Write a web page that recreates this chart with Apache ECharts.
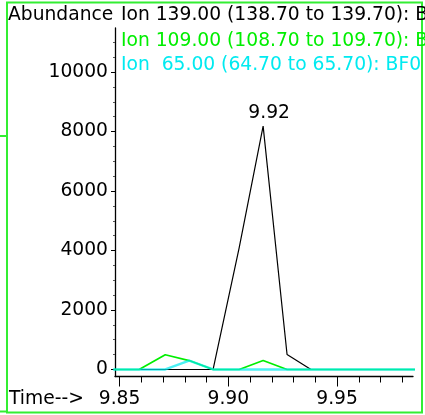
<!DOCTYPE html>
<html>
<head>
<meta charset="utf-8">
<script src="https://cdn.jsdelivr.net/npm/echarts@6/dist/echarts.min.js"></script>
<style>html,body{margin:0;padding:0;background:#fff}#c{width:425px;height:415px}</style>
</head>
<body>
<div id="c"></div>
<script>
// ---- data ----
var scanTimes = [9.837, 9.848, 9.859, 9.871, 9.882, 9.893, 9.905, 9.916, 9.927, 9.938, 9.950, 9.961, 9.972, 9.983, 9.995];
var ion139 = [0, 0, 0, 0, 0, 0, 4100, 8180, 505, 0, 0, 0, 0, 0, 0];
var ion109 = [0, 0, 0, 495, 300, 0, 0, 300, 0, 0, 0, 0, 0, 0, 0];
var ion65  = [0, 0, 0, 0, 300, 0, 0, 0, 0, 0, 0, 0, 0, 0, 0];
var legendLines = [
  "Ion 139.00 (138.70 to 139.70): B",
  "Ion 109.00 (108.70 to 109.70): B",
  "Ion  65.00 (64.70 to 65.70): BF0"
];
var yTickLabels = [0, 2000, 4000, 6000, 8000, 10000];
var yMinorTicks = [500, 1000, 1500, 2500, 3000, 3500, 4500, 5000, 5500, 6500, 7000, 7500, 8500, 9000, 9500, 10500, 11000];
var xTickLabels = [9.85, 9.90, 9.95];
var xMinorTicks = [9.86, 9.87, 9.88, 9.89, 9.91, 9.92, 9.93, 9.94, 9.96, 9.97, 9.98];
var xRange = [9.8479, 9.9849];
var yRange = [-236, 11481];
var yTitle = "Abundance";
var xTitle = "Time-->";

var FONT = '"DejaVu Sans", sans-serif';
var FS = 18.7;
var colors = ['#000000', '#00ee00', '#00eaf0'];

function pairs(vals) {
  return vals.map(function (v, i) { return [scanTimes[i], v]; });
}
function peakMark(vals) {
  var maxI = 0;
  vals.forEach(function (v, i) { if (v > vals[maxI]) maxI = i; });
  return {
    silent: true,
    symbol: 'circle', symbolSize: 1, itemStyle: {color: 'rgba(0,0,0,0)'},
    label: {show: true, position: 'top', distance: 3, offset: [6, 0], color: '#000',
      fontFamily: FONT, fontSize: FS, formatter: function (p) { return p.name; }},
    data: [{name: scanTimes[maxI].toFixed(2), coord: [scanTimes[maxI], vals[maxI]]}]
  };
}

var chart = echarts.init(document.getElementById('c'), null, {renderer: 'canvas'});
var grid = {left: 115, right: 12, top: 28, bottom: 38.5};

var option = {
  animation: false,
  backgroundColor: '#ffffff',
  grid: grid,
  xAxis: [{
    type: 'value', min: xRange[0], max: xRange[1], position: 'bottom',
    axisLine: {show: true, onZero: false, lineStyle: {color: '#000', width: 1.3}},
    axisTick: {show: true, customValues: xTickLabels, length: 10, lineStyle: {color: '#000'}},
    axisLabel: {show: true, customValues: xTickLabels, margin: 13, color: '#000', fontFamily: FONT, fontSize: FS,
      formatter: function (v) { return v.toFixed(2); }},
    splitLine: {show: false}
  }, {
    type: 'value', min: xRange[0], max: xRange[1], position: 'bottom', offset: 0,
    axisLine: {show: false, onZero: false},
    axisTick: {show: true, customValues: xMinorTicks, length: 6, lineStyle: {color: '#000'}},
    axisLabel: {show: false},
    splitLine: {show: false}
  }],
  yAxis: [{
    type: 'value', min: yRange[0], max: yRange[1], position: 'left',
    axisLine: {show: true, onZero: false, lineStyle: {color: '#000', width: 1.3}},
    axisTick: {show: true, customValues: yTickLabels, length: 4, lineStyle: {color: '#000'}},
    axisLabel: {show: true, customValues: yTickLabels, margin: 7, color: '#000', fontFamily: FONT, fontSize: FS,
      formatter: function (v) { return String(v); }},
    splitLine: {show: false}
  }, {
    type: 'value', min: yRange[0], max: yRange[1], position: 'left', offset: 0,
    axisLine: {show: false, onZero: false},
    axisTick: {show: true, customValues: yMinorTicks, length: 2, lineStyle: {color: '#555'}},
    axisLabel: {show: false},
    splitLine: {show: false}
  }],
  series: [
    {type: 'line', name: legendLines[0], data: pairs(ion139), symbol: 'none', clip: true,
      lineStyle: {color: colors[0], width: 1.2}, z: 2, markPoint: peakMark(ion139)},
    {type: 'line', name: legendLines[1], data: pairs(ion109), symbol: 'none', clip: true,
      lineStyle: {color: colors[1], width: 1.7}, z: 3},
    {type: 'line', name: legendLines[2], data: pairs(ion65), symbol: 'none', clip: true,
      lineStyle: {color: colors[2], width: 2.4, opacity: 0.7}, z: 4}
  ],
  graphic: [
    {type: 'rect', shape: {x: 7, y: 2.5, width: 415, height: 410}, style: {fill: 'none', stroke: '#33ee33', lineWidth: 2}, silent: true},
    {type: 'line', shape: {x1: 0, y1: 136, x2: 7, y2: 136}, style: {stroke: '#33ee33', lineWidth: 2}, silent: true},
    {type: 'line', shape: {x1: 0, y1: 411.5, x2: 7, y2: 411.5}, style: {stroke: '#33ee33', lineWidth: 2}, silent: true},
    {type: 'text', x: 8, y: 15.5, style: {text: yTitle, fill: '#000', font: FS + 'px ' + FONT, textVerticalAlign: 'middle'}},
    {type: 'text', x: 121, y: 15.5, style: {text: legendLines[0], fill: colors[0], font: FS + 'px ' + FONT, textVerticalAlign: 'middle'}},
    {type: 'text', x: 121, y: 41.5, style: {text: legendLines[1], fill: colors[1], font: FS + 'px ' + FONT, textVerticalAlign: 'middle'}},
    {type: 'text', x: 121, y: 65.5, style: {text: legendLines[2], fill: colors[2], font: FS + 'px ' + FONT, textVerticalAlign: 'middle'}},
    {type: 'text', x: 9, y: 399, style: {text: xTitle, fill: '#000', font: FS + 'px ' + FONT, textVerticalAlign: 'middle'}}
  ]
};
chart.setOption(option);
</script>
</body>
</html>
